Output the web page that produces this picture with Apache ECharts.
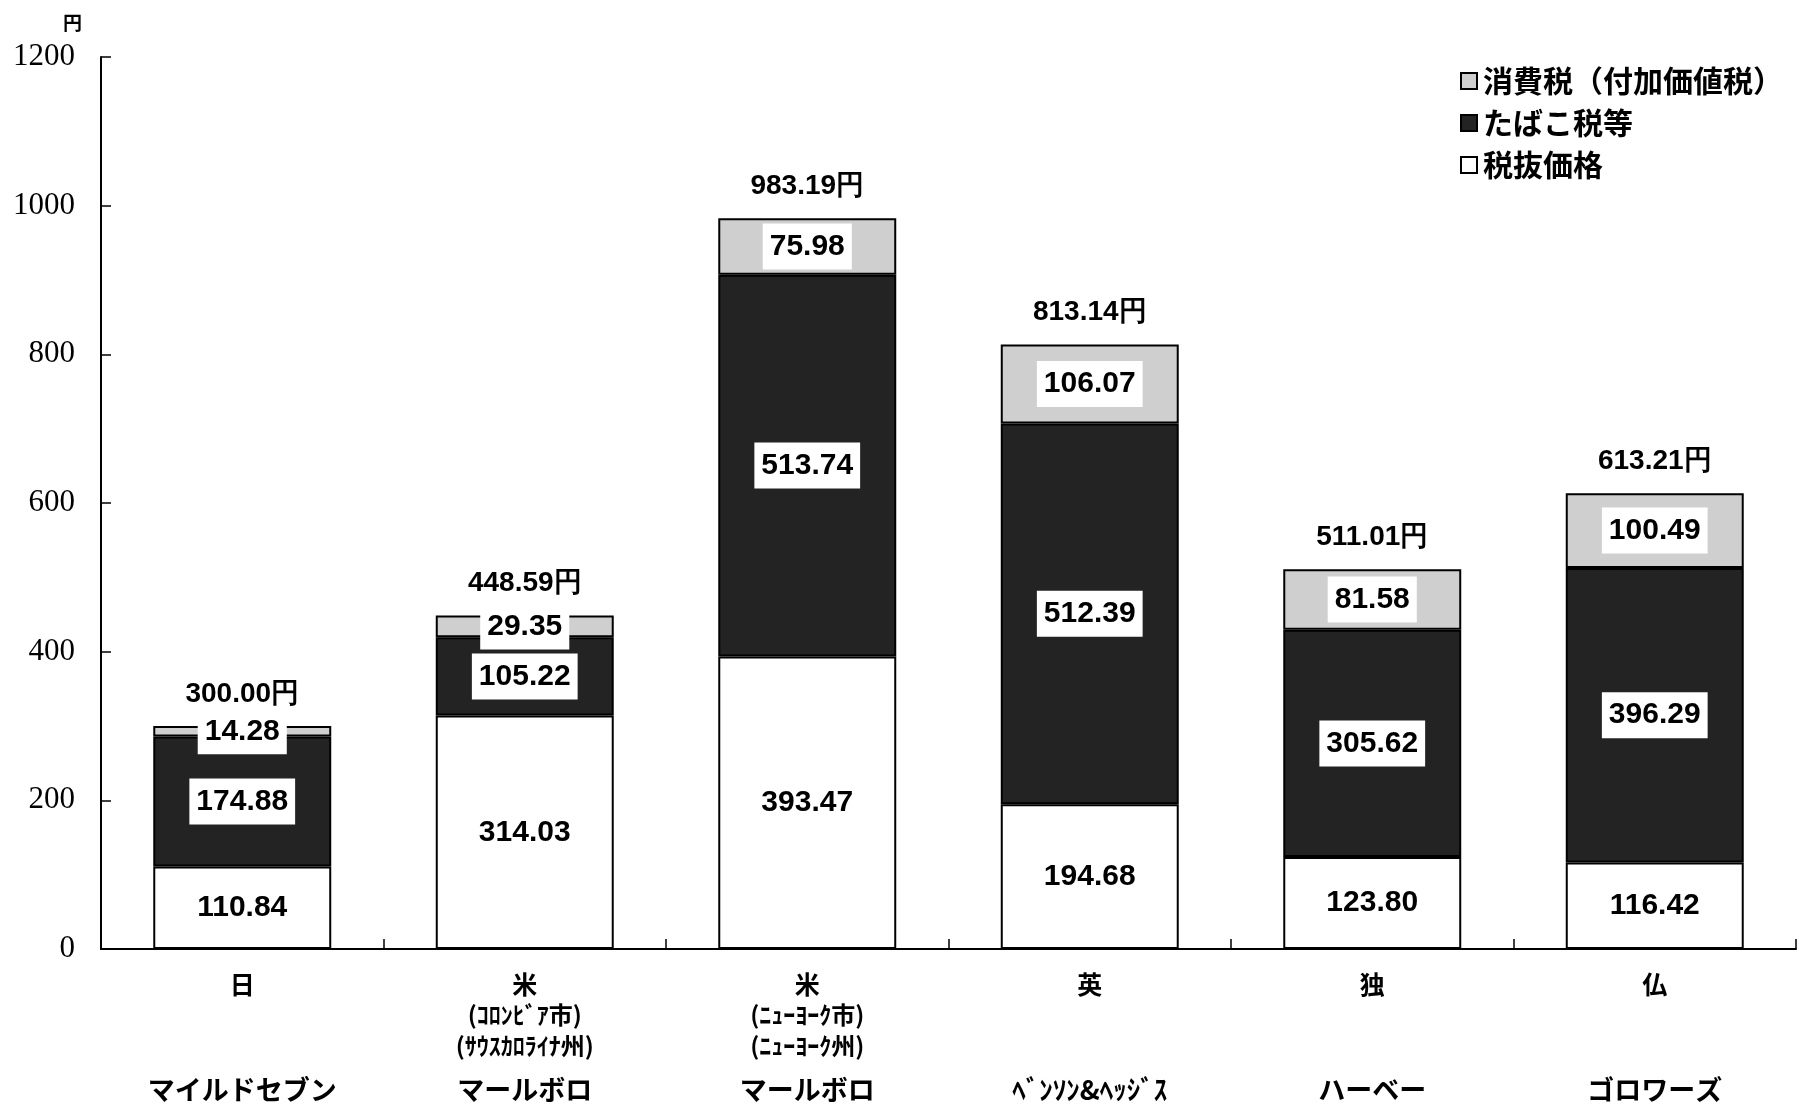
<!DOCTYPE html>
<html>
<head>
<meta charset="utf-8">
<script src="https://cdn.jsdelivr.net/npm/echarts@6/dist/echarts.min.js"></script>
<style>
html,body{margin:0;padding:0;background:#fff;}
#chart{width:1799px;height:1107px;}
</style>
</head>
<body>
<div id="chart"></div>
<script>
// ---- data ----
const countries = ['日', '米', '米', '英', '独', '仏'];
const subLine1 = ['', '(ｺﾛﾝﾋﾞｱ市)', '(ﾆｭｰﾖｰｸ市)', '', '', ''];
const subLine2 = ['', '(ｻｳｽｶﾛﾗｲﾅ州)', '(ﾆｭｰﾖｰｸ州)', '', '', ''];
const brands = ['マイルドセブン', 'マールボロ', 'マールボロ', 'ﾍﾞﾝｿﾝ&ﾍｯｼﾞｽ', 'ハーベー', 'ゴロワーズ'];
const priceExTax = [110.84, 314.03, 393.47, 194.68, 123.80, 116.42];
const tobaccoTax = [174.88, 105.22, 513.74, 512.39, 305.62, 396.29];
const consumptionTax = [14.28, 29.35, 75.98, 106.07, 81.58, 100.49];
const totals = [300.00, 448.59, 983.19, 813.14, 511.01, 613.21];
const yTicks = [0, 200, 400, 600, 800, 1000, 1200];
const seriesNames = ['税抜価格', 'たばこ税等', '消費税（付加価値税）'];

const numFont = '"Liberation Sans", Arial, sans-serif';
const jpFont = '"Noto Sans CJK JP", sans-serif';

const chart = echarts.init(document.getElementById('chart'));

function segLabel() {
  return {
    show: true,
    position: 'inside',
    color: '#000',
    fontFamily: numFont,
    fontSize: 30,
    fontWeight: 'bold',
    backgroundColor: '#fff',
    padding: [9, 7, 7, 7],
    formatter: p => p.value.toFixed(2)
  };
}

const categoryKeys = countries.map((c, i) => i);

const option = {
  animation: false,
  backgroundColor: '#fff',
  title: {
    text: '円', left: 58, top: 8,
    textStyle: { fontFamily: jpFont, fontSize: 19, fontWeight: 'bold', color: '#000' }
  },
  legend: {
    orient: 'vertical',
    left: 1455,
    top: 61,
    itemWidth: 16,
    itemHeight: 16,
    itemGap: 12,
    icon: 'rect',
    data: [seriesNames[2], seriesNames[1], seriesNames[0]],
    textStyle: { fontFamily: jpFont, fontSize: 30, fontWeight: 'bold', color: '#000', padding: [0, 0, 0, 1] }
  },
  grid: { left: 101, right: 3, top: 57, bottom: 158, containLabel: false },
  xAxis: {
    type: 'category',
    data: categoryKeys,
    axisLine: { lineStyle: { color: '#000', width: 2 } },
    axisTick: { show: true, inside: true, length: 10, lineStyle: { color: '#000', width: 1.5 } },
    axisLabel: {
      margin: 20,
      interval: 0,
      formatter: (v, i) => {
        const s1 = subLine1[i] || ' ';
        const s2 = subLine2[i] || ' ';
        return '{c|' + countries[i] + '}\n{s|' + s1 + '}\n{s|' + s2 + '}\n{b|' + brands[i] + '}';
      },
      rich: {
        c: { fontFamily: jpFont, fontSize: 25, fontWeight: 'bold', color: '#000', lineHeight: 30 },
        s: { fontFamily: jpFont, fontSize: 24, fontWeight: 'bold', color: '#000', lineHeight: 31 },
        b: { fontFamily: jpFont, fontSize: 27, fontWeight: 'bold', color: '#000', lineHeight: 58 }
      }
    }
  },
  yAxis: {
    type: 'value',
    min: yTicks[0],
    max: yTicks[yTicks.length - 1],
    interval: yTicks[1] - yTicks[0],
    axisLine: { show: true, lineStyle: { color: '#000', width: 2 } },
    axisTick: { show: true, inside: true, length: 10, lineStyle: { color: '#000', width: 1.5 } },
    splitLine: { show: false },
    axisLabel: {
      margin: 26, color: '#000',
      fontFamily: '"Liberation Serif", "DejaVu Serif", serif', fontSize: 31,
      formatter: v => String(v)
    }
  },
  series: [
    {
      name: seriesNames[0], type: 'bar', stack: 'total', barWidth: '63%',
      data: priceExTax,
      itemStyle: { color: '#ffffff', borderColor: '#000', borderWidth: 2 },
      label: Object.assign(segLabel(), { backgroundColor: 'transparent' })
    },
    {
      name: seriesNames[1], type: 'bar', stack: 'total', barWidth: '63%',
      data: tobaccoTax,
      itemStyle: { color: '#232323', borderColor: '#000', borderWidth: 2 },
      label: segLabel()
    },
    {
      name: seriesNames[2], type: 'bar', stack: 'total', barWidth: '63%',
      data: consumptionTax,
      itemStyle: { color: '#cfcfcf', borderColor: '#000', borderWidth: 2 },
      label: segLabel()
    },
    {
      name: 'total', type: 'scatter',
      data: totals,
      symbolSize: 0,
      silent: true,
      itemStyle: { opacity: 1 },
      label: {
        show: true, position: 'top', distance: 18,
        color: '#000', opacity: 1, fontFamily: numFont, fontSize: 28, fontWeight: 'bold',
        formatter: p => p.value.toFixed(2) + '円'
      }
    }
  ]
};
chart.setOption(option);
</script>
</body>
</html>
